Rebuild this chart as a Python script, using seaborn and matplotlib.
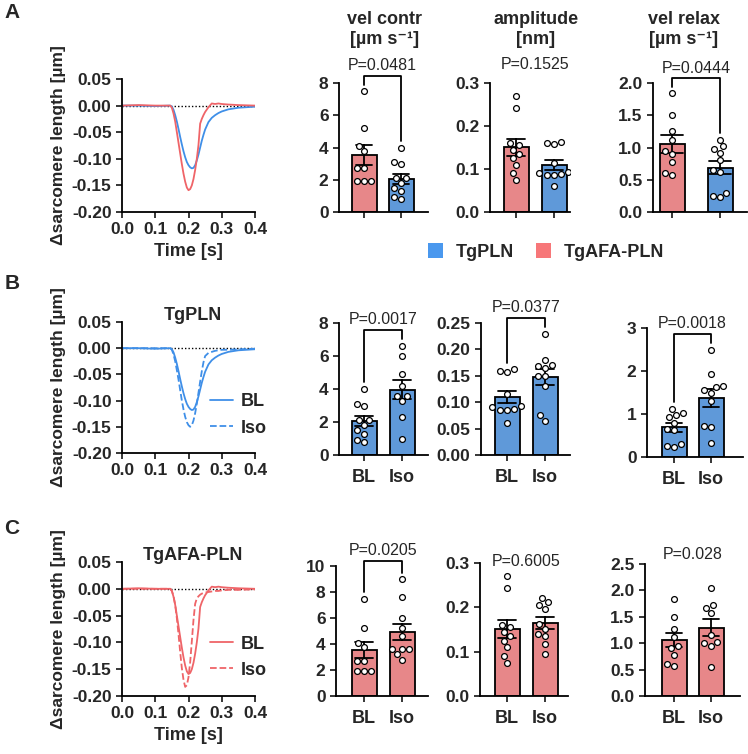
import numpy as np
import pandas as pd
import matplotlib
matplotlib.use("Agg")
import matplotlib.pyplot as plt
import seaborn as sns
from matplotlib.lines import Line2D
from matplotlib.patches import Patch
from matplotlib.ticker import FormatStrFormatter

# ---- traces (time in s, delta sarcomere length in um) ----
time_s = [0.00, 0.05, 0.10, 0.145, 0.15, 0.155, 0.16, 0.165, 0.17, 0.175, 0.18,
          0.185, 0.19, 0.195, 0.20, 0.205, 0.21, 0.215, 0.22, 0.225, 0.23, 0.235,
          0.24, 0.245, 0.25, 0.26, 0.27, 0.28, 0.29, 0.30, 0.32, 0.35, 0.40]
trace_pln_bl = [0.000, 0.000, -0.001, 0.000, -0.002, -0.008, -0.018, -0.030, -0.044,
                -0.059, -0.073, -0.086, -0.097, -0.106, -0.112, -0.116, -0.118, -0.117,
                -0.112, -0.103, -0.092, -0.079, -0.066, -0.055, -0.045, -0.031, -0.023,
                -0.018, -0.014, -0.011, -0.007, -0.004, -0.002]
trace_pln_iso = [0.000, 0.000, 0.000, 0.000, -0.003, -0.012, -0.025, -0.042, -0.060,
                 -0.080, -0.100, -0.117, -0.131, -0.141, -0.147, -0.150, -0.147, -0.138,
                 -0.124, -0.106, -0.085, -0.064, -0.044, -0.027, -0.015, -0.009, -0.007,
                 -0.005, -0.004, -0.003, -0.003, -0.002, -0.001]
trace_afa_bl = [0.000, 0.001, 0.000, 0.000, -0.004, -0.015, -0.030, -0.050, -0.070,
                -0.090, -0.110, -0.128, -0.143, -0.154, -0.159, -0.157, -0.150, -0.138,
                -0.121, -0.100, -0.074, -0.034, -0.025, -0.018, -0.012, -0.003, 0.004,
                0.003, 0.004, 0.003, 0.002, 0.001, 0.000]
trace_afa_iso = [0.000, 0.000, 0.000, 0.000, -0.004, -0.014, -0.030, -0.055, -0.085,
                 -0.118, -0.148, -0.170, -0.183, -0.180, -0.165, -0.137, -0.098, -0.058,
                 -0.028, -0.018, -0.014, -0.011, -0.009, -0.008, -0.007, -0.006, -0.005,
                 -0.004, -0.004, -0.003, -0.002, -0.002, -0.001]

# ---- single cells ----
contr_pln_bl = [4.0, 3.1, 3.0, 2.1, 2.1, 1.8, 1.5, 1.3, 0.9, 0.8]
contr_pln_iso = [6.6, 6.0, 4.9, 4.2, 3.6, 3.6, 3.3, 2.3, 1.0]
contr_afa_bl = [7.5, 5.2, 4.1, 3.8, 2.7, 2.7, 1.9, 1.9, 1.9]
contr_afa_iso = [9.0, 7.6, 6.0, 5.2, 4.6, 3.6, 3.6, 3.6, 3.2, 2.8]

amp_pln_bl = [0.162, 0.160, 0.157, 0.115, 0.093, 0.090, 0.088, 0.086, 0.085, 0.060]
amp_pln_iso = [0.230, 0.180, 0.170, 0.168, 0.165, 0.150, 0.150, 0.130, 0.075, 0.065]
amp_afa_bl = [0.270, 0.243, 0.160, 0.155, 0.145, 0.135, 0.125, 0.110, 0.090, 0.075]
amp_afa_iso = [0.222, 0.212, 0.205, 0.197, 0.162, 0.152, 0.140, 0.135, 0.118, 0.095]

relax_pln_bl = [1.12, 1.02, 0.98, 0.92, 0.80, 0.65, 0.62, 0.30, 0.25, 0.23]
relax_pln_iso = [2.50, 1.92, 1.65, 1.62, 1.55, 1.50, 1.30, 0.72, 0.70, 0.32]
relax_afa_bl = [1.84, 1.50, 1.26, 1.12, 0.95, 0.90, 0.78, 0.61, 0.57]
relax_afa_iso = [2.04, 1.72, 1.67, 1.57, 1.15, 1.02, 1.00, 0.95, 0.54]

p_row_a = ["P=0.0481", "P=0.1525", "P=0.0444"]
p_row_b = ["P=0.0017", "P=0.0377", "P=0.0018"]
p_row_c = ["P=0.0205", "P=0.6005", "P=0.028"]

BLUE = "#4A98EE"
RED = "#F77779"
LINE_BLUE = "#3F8FE8"
LINE_RED = "#EF6468"

sns.set_style("ticks")
plt.rcParams["font.family"] = ["Liberation Sans", "DejaVu Sans"]
plt.rcParams["font.weight"] = "bold"
plt.rcParams["axes.labelweight"] = "bold"
plt.rcParams["axes.unicode_minus"] = False
plt.rcParams["axes.linewidth"] = 1.3
plt.rcParams["axes.edgecolor"] = "black"

W, H = 748, 754
fig = plt.figure(figsize=(W / 100, H / 100), dpi=100)


def add_ax(x0, y0, x1, y1):
    return fig.add_axes([x0 / W, 1 - y1 / H, (x1 - x0) / W, (y1 - y0) / H])


def trace_panel(rect, series, title=None, xlabel=True, legend=False):
    ax = add_ax(*rect)
    ax.axhline(0, color="black", lw=1, ls=(0, (1, 1.5)), zorder=0)
    for vals, color, dashed in series:
        sns.lineplot(x=time_s, y=vals, color=color, linewidth=1.3,
                     linestyle="--" if dashed else "-", estimator=None, ax=ax)
    ax.set_xlim(0, 0.4)
    ax.set_ylim(-0.2, 0.05)
    ax.set_xticks([0, 0.1, 0.2, 0.3, 0.4])
    ax.set_yticks([0.05, 0, -0.05, -0.1, -0.15, -0.2])
    ax.xaxis.set_major_formatter(FormatStrFormatter("%.1f"))
    ax.yaxis.set_major_formatter(FormatStrFormatter("%.2f"))
    ax.tick_params(width=1.3, length=4, labelsize=12.5)
    sns.despine(ax=ax)
    ax.set_ylabel("Δsarcomere length [µm]", fontsize=12.5, labelpad=4)
    if xlabel:
        ax.set_xlabel("Time [s]", fontsize=13, labelpad=4)
    else:
        ax.set_xlabel("")
    if title:
        ax.text(0.53, 0.985, title, transform=ax.transAxes, ha="center",
                va="bottom", fontsize=13)
    if legend:
        c = series[0][1]
        handles = [Line2D([], [], color=c, lw=1.3),
                   Line2D([], [], color=c, lw=1.3, ls="--")]
        ax.legend(handles, ["BL", "Iso"], loc="center left",
                  bbox_to_anchor=(0.66, 0.29), frameon=False, borderpad=0,
                  borderaxespad=0, handlelength=1.3, handletextpad=0.4,
                  labelspacing=0.5, prop={"weight": "bold", "size": 13})
    return ax


def bar_panel(rect, centers, labels, groups, colors, ymax, yticks, fmt,
              p_text, p_y, bracket=None, ticklabels=True):
    ax = add_ax(*rect)
    x0, _, x1, _ = rect
    c0, c1 = centers
    d = c1 - c0
    df = pd.DataFrame({
        "group": np.repeat(labels, [len(g) for g in groups]),
        "value": np.concatenate(groups),
    })
    sns.barplot(data=df, x="group", y="value", hue="group", order=labels,
                hue_order=labels, palette=colors, errorbar="se", capsize=0.45,
                width=25 / d, edgecolor="black", linewidth=1.3,
                err_kws={"color": "black", "linewidth": 1.3}, legend=False, ax=ax)
    sns.swarmplot(data=df, x="group", y="value", order=labels, color="white",
                  edgecolor="black", linewidth=0.9, size=4.2, ax=ax)
    for coll in ax.collections:
        coll.set_zorder(4)
    ax.set_xlim((x0 - c0) / d, 1 + (x1 - c1) / d)
    ax.set_ylim(0, ymax)
    ax.set_yticks(yticks)
    ax.yaxis.set_major_formatter(FormatStrFormatter(fmt))
    ax.set_xticks([0, 1])
    ax.set_xticklabels(labels if ticklabels else ["", ""])
    ax.tick_params(axis="y", width=1.3, length=4, labelsize=12.5)
    ax.tick_params(axis="x", width=1.3, length=4, labelsize=13, pad=6)
    ax.set_xlabel("")
    ax.set_ylabel("")
    sns.despine(ax=ax)
    if bracket is not None:
        legs = [max(g) + 0.05 * ymax for g in groups]
        ax.plot([0, 0, 1, 1], [legs[0], bracket, bracket, legs[1]],
                color="black", lw=1.3, clip_on=False)
        p_y = bracket
    ax.annotate(p_text, xy=(0.5, p_y), xytext=(0, 2), textcoords="offset points",
                ha="center", va="bottom", fontsize=11.5, fontweight="normal",
                annotation_clip=False)
    return ax


# ---- row A ----
trace_panel((122, 79, 255, 212),
            [(trace_pln_bl, LINE_BLUE, False), (trace_afa_bl, LINE_RED, False)])
bar_panel((339, 83, 428, 212), (364, 401), ["TgAFA-PLN", "TgPLN"],
          [contr_afa_bl, contr_pln_bl], [RED, BLUE], 8, [0, 2, 4, 6, 8], "%d",
          p_row_a[0], None, bracket=8.45, ticklabels=False)
bar_panel((490, 83, 570, 212), (516, 554), ["TgAFA-PLN", "TgPLN"],
          [amp_afa_bl, amp_pln_bl], [RED, BLUE], 0.3, [0, 0.1, 0.2, 0.3], "%.1f",
          p_row_a[1], 0.318, ticklabels=False)
bar_panel((653, 83, 747, 212), (672, 720), ["TgAFA-PLN", "TgPLN"],
          [relax_afa_bl, relax_pln_bl], [RED, BLUE], 2.0,
          [0, 0.5, 1.0, 1.5, 2.0], "%.1f", p_row_a[2], None, bracket=2.07,
          ticklabels=False)

# ---- row B ----
trace_panel((122, 322, 255, 453),
            [(trace_pln_bl, LINE_BLUE, False), (trace_pln_iso, LINE_BLUE, True)],
            title="TgPLN", xlabel=False, legend=True)
bar_panel((339, 323, 428, 455), (364, 402), ["BL", "Iso"],
          [contr_pln_bl, contr_pln_iso], [BLUE, BLUE], 8, [0, 2, 4, 6, 8], "%d",
          p_row_b[0], None, bracket=7.6)
bar_panel((481, 323, 570, 455), (507, 545), ["BL", "Iso"],
          [amp_pln_bl, amp_pln_iso], [BLUE, BLUE], 0.25,
          [0, 0.05, 0.1, 0.15, 0.2, 0.25], "%.2f", p_row_b[1], None, bracket=0.26)
bar_panel((647, 328, 743, 457), (674, 711), ["BL", "Iso"],
          [relax_pln_bl, relax_pln_iso], [BLUE, BLUE], 3, [0, 1, 2, 3], "%d",
          p_row_b[2], None, bracket=2.87)

# ---- row C ----
trace_panel((122, 562, 255, 696),
            [(trace_afa_bl, LINE_RED, False), (trace_afa_iso, LINE_RED, True)],
            title="TgAFA-PLN", legend=True)
bar_panel((336, 566, 428, 696), (364, 402), ["BL", "Iso"],
          [contr_afa_bl, contr_afa_iso], [RED, RED], 10, [0, 2, 4, 6, 8, 10], "%d",
          p_row_c[0], None, bracket=10.38)
bar_panel((480, 563, 568, 696), (507, 545), ["BL", "Iso"],
          [amp_afa_bl, amp_afa_iso], [RED, RED], 0.3, [0, 0.1, 0.2, 0.3], "%.1f",
          p_row_c[1], 0.28)
bar_panel((645, 564, 740, 696), (674, 711), ["BL", "Iso"],
          [relax_afa_bl, relax_afa_iso], [RED, RED], 2.5,
          [0, 0.5, 1.0, 1.5, 2.0, 2.5], "%.1f", p_row_c[2], 2.48)

# ---- column titles, panel letters, legend ----
for x, top, bottom in [(385, "vel contr", "[µm s⁻¹]"), (536, "amplitude", "[nm]"),
                       (684, "vel relax", "[µm s⁻¹]")]:
    fig.text(x / W, 1 - 19 / H, top, ha="center", va="center", fontsize=13)
    fig.text(x / W, 1 - 40 / H, bottom, ha="center", va="center", fontsize=13)

for letter, y in [("A", 13), ("B", 284), ("C", 529)]:
    fig.text(12 / W, 1 - y / H, letter, ha="center", va="center", fontsize=15)

fig.legend([Patch(facecolor=BLUE, edgecolor="none"), Patch(facecolor=RED, edgecolor="none")],
           ["TgPLN", "TgAFA-PLN"], loc="center", bbox_to_anchor=(546 / W, 1 - 252 / H),
           ncol=2, frameon=False, handlelength=0.85, handleheight=0.85,
           handletextpad=0.7, columnspacing=1.2, prop={"weight": "bold", "size": 13})

fig.savefig("out.png", dpi=100)
